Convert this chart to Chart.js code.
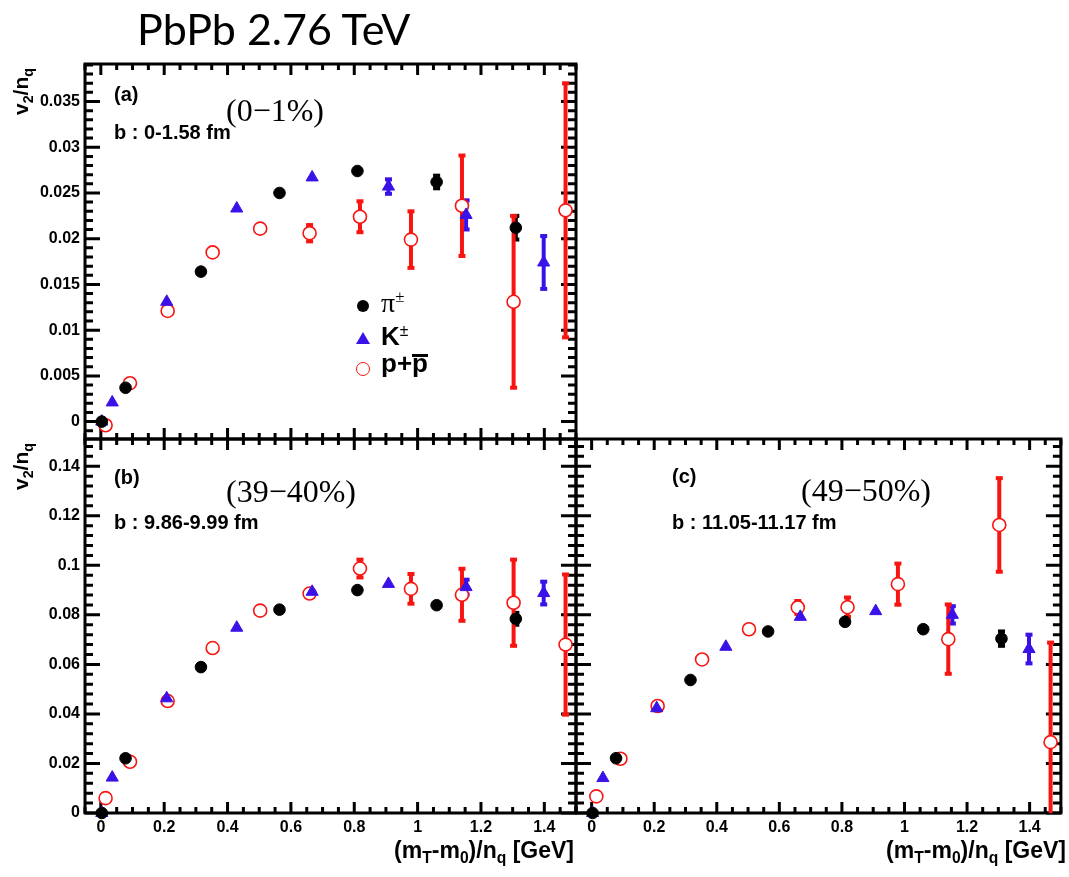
<!DOCTYPE html>
<html>
<head>
<meta charset="utf-8">
<title>v2/nq vs (mT-m0)/nq, PbPb 2.76 TeV</title>
<script src="https://cdn.jsdelivr.net/npm/chart.js@4.4.1/dist/chart.umd.min.js"></script>
<style>
  body { margin: 0; width: 1069px; height: 877px; background: #fff; position: relative; overflow: hidden;
         font-family: "Liberation Sans", Arial, sans-serif; }
  canvas { position: absolute; }
  .t { position: absolute; white-space: nowrap; color: #000; line-height: 1; z-index: 2; }
  .lab { font-weight: bold; font-size: 20px; }
  .cent { font-family: "Liberation Serif", "Times New Roman", serif; font-size: 32px; }
  .sub { font-size: 0.68em; position: relative; top: 0.32em; }
  .sup { font-size: 0.6em; position: relative; top: -0.6em; }
  .ytl { position: absolute; width: 100px; text-align: right; transform-origin: 0 0; transform: rotate(-90deg);
         font-weight: bold; font-size: 21px; line-height: 24px; white-space: nowrap; z-index: 2; }
  .xtl { position: absolute; width: 300px; text-align: right; font-weight: bold; font-size: 23px; line-height: 1;
         white-space: nowrap; z-index: 2; }
  .leg { font-weight: bold; font-size: 26px; }
  .ovl { position: relative; }
  .ovl::before { content: ''; position: absolute; left: 0; right: 0; top: 6px; border-top: 3px solid #000; }
  .mk { position: absolute; z-index: 2; box-sizing: border-box; }
</style>
</head>
<body>

<div class="t" style="left:137px;top:7px;font-family:Lato,'Open Sans',sans-serif;font-size:43px">PbPb 2.76 TeV</div>

<canvas id="panelA" width="590" height="415" style="left:0;top:44px"></canvas>
<canvas id="panelB" width="590" height="458" style="left:0;top:419px"></canvas>
<canvas id="panelC" width="509" height="458" style="left:560px;top:419px"></canvas>

<!-- panel (a) texts -->
<div class="t lab" style="left:114px;top:84px">(a)</div>
<div class="t lab" style="left:114px;top:122px">b : 0-1.58 fm</div>
<div class="t cent" style="left:226px;top:94px">(0&minus;1%)</div>
<div class="ytl" style="left:9px;top:168px">v<span class="sub">2</span>/n<span class="sub">q</span></div>

<!-- legend -->
<div class="mk" style="left:357px;top:300px;width:12px;height:12px;border-radius:50%;background:#000"></div>
<div class="mk" style="left:356px;top:332px;width:0;height:0;border-left:7px solid transparent;border-right:7px solid transparent;border-bottom:12px solid #3a12e8"></div>
<div class="mk" style="left:356px;top:362px;width:14px;height:14px;border-radius:50%;border:1.6px solid #f81410;background:#fff"></div>
<div class="t" style="left:381px;top:289px;font-family:'Liberation Serif',serif;font-size:28px">&pi;<span class="sup">&plusmn;</span></div>
<div class="t leg" style="left:381px;top:323px">K<span class="sup" style="font-weight:normal">&plusmn;</span></div>
<div class="t leg" style="left:381px;top:350px">p+<span class="ovl">p</span></div>

<!-- panel (b) texts -->
<div class="t lab" style="left:114px;top:467px">(b)</div>
<div class="t lab" style="left:114px;top:512px">b : 9.86-9.99 fm</div>
<div class="t cent" style="left:226px;top:475px">(39&minus;40%)</div>
<div class="ytl" style="left:9px;top:543px">v<span class="sub">2</span>/n<span class="sub">q</span></div>
<div class="xtl" style="left:274px;top:839px">(m<span class="sub">T</span>-m<span class="sub">0</span>)/n<span class="sub">q</span> [GeV]</div>

<!-- panel (c) texts -->
<div class="t lab" style="left:672px;top:466px">(c)</div>
<div class="t lab" style="left:672px;top:512px">b : 11.05-11.17 fm</div>
<div class="t cent" style="left:801px;top:474px">(49&minus;50%)</div>
<div class="xtl" style="left:766px;top:839px">(m<span class="sub">T</span>-m<span class="sub">0</span>)/n<span class="sub">q</span> [GeV]</div>

<script>
// axis ticks
const xTicks = [0, 0.2, 0.4, 0.6, 0.8, 1, 1.2, 1.4];
const xTickLabels = ['0', '0.2', '0.4', '0.6', '0.8', '1', '1.2', '1.4'];
const yTicksTop = [0, 0.005, 0.01, 0.015, 0.02, 0.025, 0.03, 0.035];
const yTickLabelsTop = ['0', '0.005', '0.01', '0.015', '0.02', '0.025', '0.03', '0.035'];
const yTicksLow = [0, 0.02, 0.04, 0.06, 0.08, 0.1, 0.12, 0.14];
const yTickLabelsLow = ['0', '0.02', '0.04', '0.06', '0.08', '0.1', '0.12', '0.14'];

// (mT-m0)/nq bins for pi, K, p
const piX = [0.003, 0.078, 0.316, 0.564, 0.810, 1.060, 1.310];
const kX = [0.003, 0.036, 0.208, 0.429, 0.667, 0.908, 1.153, 1.398];
const pX = [0.015, 0.092, 0.211, 0.353, 0.503, 0.659, 0.818, 0.979, 1.140, 1.303, 1.467];

// (a) 0-1%
const piA = [0.0000, 0.0037, 0.0164, 0.0250, 0.0274, 0.0262, 0.0212];
const piErrA = [0, 0, 0, 0, 0, 0.0008, 0.0014];
const kA = [0.0000, 0.0021, 0.0131, 0.0233, 0.0267, 0.0257, 0.0226, 0.0174];
const kErrA = [0, 0, 0, 0, 0, 0.0009, 0.0017, 0.0030];
const pA = [-0.0004, 0.0042, 0.0121, 0.0185, 0.0211, 0.0206, 0.0224, 0.0199, 0.0236, 0.0131, 0.0231];
const pErrA = [0, 0, 0, 0, 0, 0.0010, 0.0018, 0.0032, 0.0056, 0.0095, 0.0140];

// (b) 39-40%
const piB = [0.0000, 0.0221, 0.0589, 0.0821, 0.0900, 0.0839, 0.0784];
const piErrB = [0, 0, 0, 0, 0, 0, 0.0028];
const kB = [0.0000, 0.0143, 0.0463, 0.0748, 0.0893, 0.0925, 0.0912, 0.0888];
const kErrB = [0, 0, 0, 0, 0, 0, 0.0034, 0.0050];
const pB = [0.0060, 0.0207, 0.0452, 0.0666, 0.0817, 0.0886, 0.0987, 0.0905, 0.0881, 0.0849, 0.0680];
const pErrB = [0, 0, 0, 0, 0, 0, 0.0040, 0.0064, 0.0109, 0.0178, 0.0287];

// (c) 49-50%
const piC = [0.0000, 0.0221, 0.0537, 0.0733, 0.0772, 0.0742, 0.0704];
const piErrC = [0, 0, 0, 0, 0, 0, 0.0033];
const kC = [0.0000, 0.0141, 0.0423, 0.0671, 0.0792, 0.0815, 0.0800, 0.0662];
const kErrC = [0, 0, 0, 0, 0, 0, 0.0039, 0.0062];
const pC = [0.0067, 0.0219, 0.0432, 0.0620, 0.0742, 0.0830, 0.0831, 0.0924, 0.0702, 0.1163, 0.0286];
const pErrC = [0, 0, 0, 0, 0, 0.0030, 0.0043, 0.0087, 0.0144, 0.0193, 0.0406];

const BLACK = '#000000';
const BLUE = '#3a12e8';
const RED = '#f81410';
const tickFont = { family: 'Liberation Sans', weight: 'bold', size: 16 };

function pts(xs, ys) {
  return xs.map((x, i) => ({ x: x, y: ys[i] }));
}

// ROOT-like frame: thick box, inward ticks on all sides, error bars under markers
const rootFrame = {
  id: 'rootFrame',
  beforeDatasetsDraw(chart, args, opts) {
    const ctx = chart.ctx, a = chart.chartArea;
    const x = chart.scales.x, y = chart.scales.y;
    ctx.save();
    ctx.strokeStyle = BLACK;
    ctx.lineWidth = 3;
    ctx.strokeRect(a.left, a.top, a.right - a.left, a.bottom - a.top);

    ctx.lineWidth = 3;
    const isMajor = (ticks, v) => ticks.some(t => Math.abs(t.value - v) < 1e-9);
    for (let i = Math.ceil(x.min / opts.xMinor - 1e-6); i * opts.xMinor <= x.max + 1e-9; i++) {
      const v = i * opts.xMinor;
      const px = x.getPixelForValue(v);
      const len = isMajor(x.ticks, v) ? 11 : 6;
      ctx.beginPath();
      ctx.moveTo(px, a.bottom); ctx.lineTo(px, a.bottom - len);
      ctx.moveTo(px, a.top); ctx.lineTo(px, a.top + len);
      ctx.stroke();
    }
    for (let i = Math.ceil(y.min / opts.yMinor - 1e-6); i * opts.yMinor <= y.max + 1e-9; i++) {
      const v = i * opts.yMinor;
      const py = y.getPixelForValue(v);
      const len = isMajor(y.ticks, v) ? 15 : 8;
      ctx.beginPath();
      ctx.moveTo(a.left, py); ctx.lineTo(a.left + len, py);
      ctx.moveTo(a.right, py); ctx.lineTo(a.right - len, py);
      ctx.stroke();
    }

    // error bars, clipped to the frame
    ctx.beginPath();
    ctx.rect(a.left, a.top, a.right - a.left, a.bottom - a.top);
    ctx.clip();
    chart.data.datasets.forEach(ds => {
      ctx.strokeStyle = ds.barColor;
      ctx.fillStyle = ds.barColor;
      ctx.lineWidth = 4;
      ds.data.forEach((pt, i) => {
        const e = ds.errors[i];
        if (!e) return;
        const px = x.getPixelForValue(pt.x);
        const y1 = y.getPixelForValue(pt.y + e);
        const y2 = y.getPixelForValue(pt.y - e);
        ctx.beginPath();
        ctx.moveTo(px, y1); ctx.lineTo(px, y2);
        ctx.stroke();
        ctx.fillRect(px - 3.5, y1 - 1, 7, 4);
        ctx.fillRect(px - 3.5, y2 - 3, 7, 4);
      });
    });
    ctx.restore();
  }
};

function makePanel(id, p) {
  return new Chart(document.getElementById(id), {
    type: 'scatter',
    data: {
      datasets: [
        { label: 'pi', data: pts(piX, p.pi), errors: p.piErr, barColor: BLACK,
          pointStyle: 'circle', pointRadius: 5.8, pointBackgroundColor: BLACK, pointBorderColor: BLACK,
          pointBorderWidth: 1, clip: false },
        { label: 'K', data: pts(kX, p.k), errors: p.kErr, barColor: BLUE,
          pointStyle: 'triangle', pointRadius: 7, pointBackgroundColor: BLUE, pointBorderColor: BLUE,
          pointBorderWidth: 1, clip: false },
        { label: 'p', data: pts(pX, p.p), errors: p.pErr, barColor: RED,
          pointStyle: 'circle', pointRadius: 6.5, pointBackgroundColor: '#ffffff', pointBorderColor: RED,
          pointBorderWidth: 1.6, clip: false }
      ]
    },
    options: {
      responsive: false,
      animation: false,
      events: [],
      layout: { padding: p.padding },
      plugins: {
        legend: { display: false },
        tooltip: { enabled: false },
        rootFrame: { xMinor: 0.05, yMinor: p.yMinor }
      },
      scales: {
        x: {
          type: 'linear', min: -0.05, max: 1.5,
          afterBuildTicks: s => { s.ticks = xTicks.map(v => ({ value: v })); },
          afterFit: s => { s.height = p.xHeight; },
          grid: { display: false, drawTicks: false },
          border: { display: false },
          ticks: {
            display: p.showX, autoSkip: false, maxRotation: 0, padding: 5,
            font: tickFont, color: BLACK,
            callback: v => xTickLabels[xTicks.indexOf(v)]
          }
        },
        y: {
          type: 'linear', min: p.yMin, max: p.yMax,
          afterBuildTicks: s => { s.ticks = p.yTicks.map(v => ({ value: v })); },
          afterFit: s => { s.width = p.yWidth; },
          grid: { display: false, drawTicks: false },
          border: { display: false },
          ticks: {
            display: p.showY, autoSkip: false, padding: 5,
            font: tickFont, color: BLACK,
            callback: v => p.yLabels[p.yTicks.indexOf(v)]
          }
        }
      }
    },
    plugins: [rootFrame]
  });
}

makePanel('panelA', {
  pi: piA, piErr: piErrA, k: kA, kErr: kErrA, p: pA, pErr: pErrA,
  yMin: -0.0019, yMax: 0.0391, yMinor: 0.001, yTicks: yTicksTop, yLabels: yTickLabelsTop,
  showX: false, showY: true, xHeight: 0, yWidth: 85,
  padding: { top: 20, bottom: 20, left: 0, right: 14 }
});

makePanel('panelB', {
  pi: piB, piErr: piErrB, k: kB, kErr: kErrB, p: pB, pErr: pErrB,
  yMin: 0, yMax: 0.151, yMinor: 0.004, yTicks: yTicksLow, yLabels: yTickLabelsLow,
  showX: true, showY: true, xHeight: 64, yWidth: 85,
  padding: { top: 20, bottom: 0, left: 0, right: 14 }
});

makePanel('panelC', {
  pi: piC, piErr: piErrC, k: kC, kErr: kErrC, p: pC, pErr: pErrC,
  yMin: 0, yMax: 0.151, yMinor: 0.004, yTicks: yTicksLow, yLabels: yTickLabelsLow,
  showX: true, showY: false, xHeight: 64, yWidth: 16,
  padding: { top: 20, bottom: 0, left: 0, right: 3 }
});
</script>
</body>
</html>
